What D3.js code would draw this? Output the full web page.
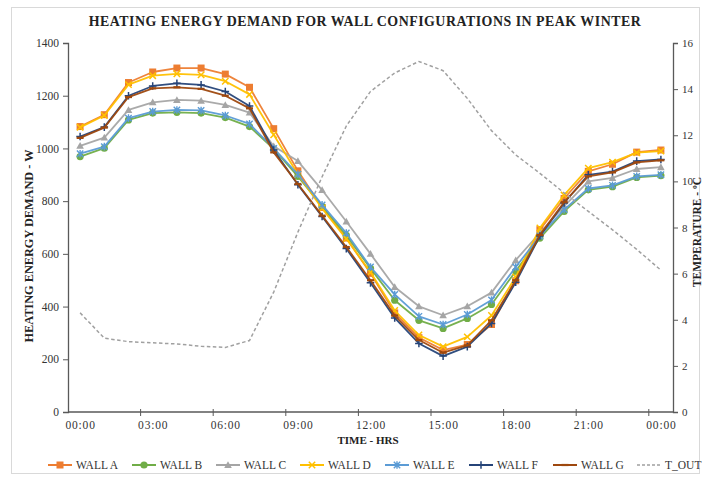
<!DOCTYPE html>
<html><head><meta charset="utf-8">
<script src="https://cdn.jsdelivr.net/npm/d3@7"></script>
<style>
html,body{margin:0;padding:0;background:#fff;}
svg{display:block;font-family:"Liberation Serif","Times New Roman",serif;}
</style></head>
<body><svg id="c" width="707" height="479"></svg>
<script>
const categories = ["00:00","01:00","02:00","03:00","04:00","05:00","06:00","07:00","08:00","09:00","10:00","11:00","12:00","13:00","14:00","15:00","16:00","17:00","18:00","19:00","20:00","21:00","22:00","23:00","00:00"];
const xTickLabels = ["00:00","03:00","06:00","09:00","12:00","15:00","18:00","21:00","00:00"];
const yLeftTicks = [0,200,400,600,800,1000,1200,1400];
const yRightTicks = [0,2,4,6,8,10,12,14,16];

const wallA = [1083,1128,1250,1290,1305,1305,1282,1232,1075,915,776,660,526,376,282,235,256,332,498,692,810,913,940,986,994];
const wallB = [969,1001,1108,1134,1137,1134,1117,1083,998,894,780,670,545,424,348,317,355,408,534,660,761,843,855,890,897];
const wallC = [1010,1041,1146,1175,1184,1181,1165,1136,1008,952,842,723,600,474,401,367,401,453,576,680,780,875,888,922,929];
const wallD = [1080,1125,1242,1276,1283,1279,1255,1205,1052,902,772,657,530,385,292,248,285,366,512,698,823,925,948,984,990];
const wallE = [980,1007,1115,1140,1146,1144,1125,1093,1000,902,786,679,550,446,363,332,370,425,550,668,768,848,860,894,900];
const wallF = [1045,1081,1200,1237,1247,1241,1216,1161,994,862,742,620,490,357,260,212,248,336,492,668,793,900,912,952,958];
const wallG = [1040,1079,1195,1228,1232,1226,1200,1152,985,865,745,626,500,366,273,225,253,348,500,672,796,894,909,947,955];
const tOut = [4.3,3.2,3.05,3.0,2.95,2.85,2.8,3.1,5.2,7.8,10.2,12.4,13.9,14.7,15.2,14.8,13.6,12.2,11.15,10.35,9.5,8.7,7.9,7.05,6.15];

const seriesNames = ["WALL A","WALL B","WALL C","WALL D","WALL E","WALL F","WALL G"];
const seriesData = [wallA,wallB,wallC,wallD,wallE,wallF,wallG];
const colors = ["#ED7D31","#70AD47","#A5A5A5","#FFC000","#5B9BD5","#264478","#9E480E"];
const markers = ["square","circle","triangle","x","star","plus","dash"];
const tColor = "#A0A0A0";

const svg = d3.select("#c");
const L = 68, R = 673, T = 43, B = 412;

// border
svg.append("rect").attr("x",11.5).attr("y",7.5).attr("width",688).attr("height",466)
  .attr("fill","none").attr("stroke","#d9d9d9").attr("stroke-width",1);

const x = d3.scalePoint().domain(d3.range(categories.length)).range([L,R]).padding(0.5);
const step = x.step();
const yL = d3.scaleLinear().domain([0,1400]).range([B,T]);
const yR = d3.scaleLinear().domain([0,16]).range([B,T]);

// title
svg.append("text").attr("x",365).attr("y",26).attr("text-anchor","middle")
  .attr("font-size",13.9).attr("font-weight","bold").attr("letter-spacing",0.5).attr("fill","#222")
  .text("HEATING ENERGY DEMAND FOR WALL CONFIGURATIONS IN PEAK WINTER");

// left axis
const gL = svg.append("g").attr("transform",`translate(${L},0)`)
  .call(d3.axisLeft(yL).tickValues(yLeftTicks).tickSize(5).tickPadding(4).tickFormat(d3.format("d")));
// right axis
const gR = svg.append("g").attr("transform",`translate(${R},0)`)
  .call(d3.axisRight(yR).tickValues(yRightTicks).tickSize(5).tickPadding(4).tickFormat(d3.format("d")));
// bottom axis labels
const labIdx = [0,3,6,9,12,15,18,21,24];
const gB = svg.append("g").attr("transform",`translate(0,${B})`)
  .call(d3.axisBottom(x).tickValues(labIdx).tickSize(0).tickPadding(9).tickFormat((d,i)=>xTickLabels[i]));
// bottom tick marks between categories
const tickIdx = [2,5,8,11,14,17,20,23];
svg.append("g").selectAll("line").data(tickIdx).join("line")
  .attr("x1",d=>x(d)+step/2).attr("x2",d=>x(d)+step/2).attr("y1",B-3).attr("y2",B+4)
  .attr("stroke","#595959").attr("stroke-width",1);

[gL,gR,gB].forEach(g=>{
  g.select(".domain").attr("stroke","#595959").attr("stroke-width",1.3);
  g.selectAll(".tick line").attr("stroke","#595959");
  g.selectAll(".tick text").attr("font-family","Liberation Serif, serif").attr("font-size",11.5).attr("fill","#333");
});
gR.selectAll(".tick text").attr("font-size",11);
gB.select(".domain").attr("d",`M${L},0H${R}`);
gB.selectAll(".tick text").attr("letter-spacing",0.8);

// axis titles
svg.append("text").attr("x",368).attr("y",444).attr("text-anchor","middle")
  .attr("font-size",11).attr("font-weight","bold").attr("fill","#222").text("TIME - HRS");
svg.append("text").attr("transform","translate(33,246) rotate(-90)").attr("text-anchor","middle")
  .attr("font-size",12.3).attr("font-weight","bold").attr("fill","#222").text("HEATING ENERGY DEMAND - W");
svg.append("text").attr("transform","translate(701,232) rotate(-90)").attr("text-anchor","middle")
  .attr("font-size",11.5).attr("font-weight","bold").attr("fill","#222").text("TEMPERATURE - ºC");

function drawMarker(g, type, color, cx, cy, s){
  if(type==="square") g.append("rect").attr("x",cx-3.5*s).attr("y",cy-3.5*s).attr("width",7*s).attr("height",7*s).attr("fill",color);
  else if(type==="circle") g.append("circle").attr("cx",cx).attr("cy",cy).attr("r",3.6*s).attr("fill",color);
  else if(type==="triangle") g.append("path").attr("d",`M${cx},${cy-3.8*s}L${cx+3.8*s},${cy+3*s}L${cx-3.8*s},${cy+3*s}Z`).attr("fill",color);
  else if(type==="x") g.append("path").attr("d",`M${cx-3.2*s},${cy-3.2*s}L${cx+3.2*s},${cy+3.2*s}M${cx+3.2*s},${cy-3.2*s}L${cx-3.2*s},${cy+3.2*s}`).attr("stroke",color).attr("stroke-width",1.5);
  else if(type==="star") g.append("path").attr("d",`M${cx-3.2*s},${cy-3.2*s}L${cx+3.2*s},${cy+3.2*s}M${cx+3.2*s},${cy-3.2*s}L${cx-3.2*s},${cy+3.2*s}M${cx},${cy-3.8*s}L${cx},${cy+3.8*s}`).attr("stroke",color).attr("stroke-width",1.4);
  else if(type==="plus") g.append("path").attr("d",`M${cx-3.8*s},${cy}L${cx+3.8*s},${cy}M${cx},${cy-3.8*s}L${cx},${cy+3.8*s}`).attr("stroke",color).attr("stroke-width",1.5);
  else if(type==="dash") g.append("path").attr("d",`M${cx-3.5*s},${cy}L${cx+3.5*s},${cy}`).attr("stroke",color).attr("stroke-width",2.2);
}

const plot = svg.append("g");
const lineL = d3.line().x((d,i)=>x(i)).y(d=>yL(d));
seriesData.forEach((vals,k)=>{
  const g = plot.append("g");
  g.append("path").datum(vals).attr("d",lineL).attr("fill","none").attr("stroke",colors[k])
    .attr("stroke-width",1.8).attr("stroke-linejoin","round").attr("opacity",0.95);
  vals.forEach((v,i)=>drawMarker(g, markers[k], colors[k], x(i), yL(v), 1));
});
const lineR = d3.line().x((d,i)=>x(i)).y(d=>yR(d));
plot.append("path").datum(tOut).attr("d",lineR).attr("fill","none").attr("stroke",tColor)
  .attr("stroke-width",1.5).attr("stroke-dasharray","3.5,2.5");

// legend
const legX = [48,132,216,300,385,469,553,637];
const legY = 465;
const leg = svg.append("g");
seriesNames.concat(["T_OUT"]).forEach((name,k)=>{
  const lx = legX[k];
  const g = leg.append("g");
  if(k<7){
    g.append("line").attr("x1",lx).attr("x2",lx+24).attr("y1",legY).attr("y2",legY).attr("stroke",colors[k]).attr("stroke-width",2);
    drawMarker(g, markers[k], colors[k], lx+12, legY, 1);
  } else {
    g.append("line").attr("x1",lx).attr("x2",lx+24).attr("y1",legY).attr("y2",legY).attr("stroke",tColor).attr("stroke-width",1.5).attr("stroke-dasharray","3,2");
  }
  g.append("text").attr("x",lx+28).attr("y",legY+4).attr("font-size",11.5).attr("fill","#333").text(name);
});
</script></body></html>
